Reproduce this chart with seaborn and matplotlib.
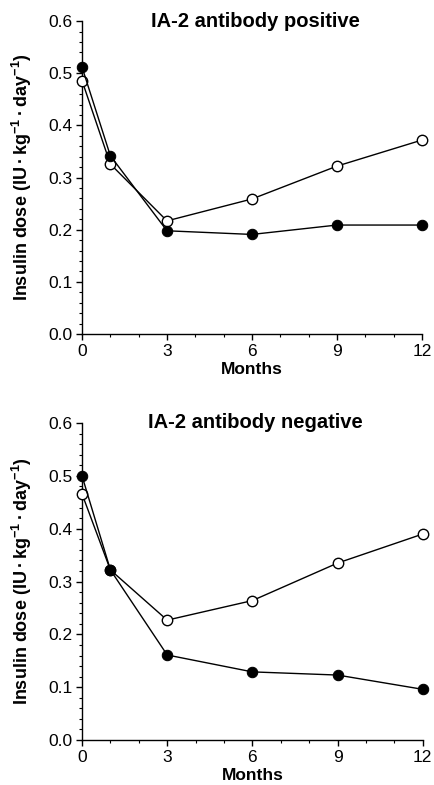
import seaborn as sns
import matplotlib.pyplot as plt
from matplotlib.ticker import MultipleLocator

months = [0, 1, 3, 6, 9, 12]

# IA-2 antibody positive
pos_filled = [0.512, 0.342, 0.198, 0.191, 0.209, 0.209]
pos_open = [0.486, 0.326, 0.217, 0.259, 0.322, 0.372]

# IA-2 antibody negative
neg_filled = [0.500, 0.322, 0.161, 0.129, 0.123, 0.096]
neg_open = [0.466, 0.322, 0.227, 0.264, 0.335, 0.390]

titles = ['IA-2 antibody positive', 'IA-2 antibody negative']
ylabel = 'Insulin dose (IU\u2009$\\bullet$\u2009kg$^{-1}$\u2009$\\bullet$\u2009day$^{-1}$)'

sns.set_style('ticks')
plt.rcParams['font.family'] = ['Liberation Sans', 'DejaVu Sans']
plt.rcParams['mathtext.fontset'] = 'custom'
plt.rcParams['mathtext.rm'] = 'Liberation Sans:bold'
plt.rcParams['mathtext.bf'] = 'Liberation Sans:bold'
plt.rcParams['text.color'] = 'black'
plt.rcParams['axes.labelcolor'] = 'black'
plt.rcParams['xtick.color'] = 'black'
plt.rcParams['ytick.color'] = 'black'
plt.rcParams['axes.edgecolor'] = 'black'

fig = plt.figure(figsize=(4.34, 7.85), dpi=100)
ax1 = fig.add_axes([0.189, 0.5745, 0.783, 0.3985])
ax2 = fig.add_axes([0.189, 0.0573, 0.785, 0.4037])

for ax, filled, opened, title, ty in [(ax1, pos_filled, pos_open, titles[0], 0.981),
                                      (ax2, neg_filled, neg_open, titles[1], 0.986)]:
    sns.lineplot(x=months, y=opened, ax=ax, color='black', lw=1.0,
                 marker='o', markersize=7.5, markerfacecolor='white',
                 markeredgecolor='black', markeredgewidth=1.0, zorder=3)
    sns.lineplot(x=months, y=filled, ax=ax, color='black', lw=1.0,
                 marker='o', markersize=7.5, markerfacecolor='black',
                 markeredgecolor='black', zorder=4)
    ax.set_xlim(0, 12)
    ax.set_ylim(0, 0.6)
    ax.set_xticks([0, 3, 6, 9, 12])
    ax.set_yticks([0.0, 0.1, 0.2, 0.3, 0.4, 0.5, 0.6])
    ax.set_yticklabels(['0.0', '0.1', '0.2', '0.3', '0.4', '0.5', '0.6'])
    ax.xaxis.set_minor_locator(MultipleLocator(1))
    ax.yaxis.set_minor_locator(MultipleLocator(0.02))
    ax.tick_params(which='major', length=4, width=1, labelsize=12.5, pad=3)
    ax.tick_params(which='minor', length=2, width=0.8)
    ax.spines['top'].set_visible(False)
    ax.spines['right'].set_visible(False)
    ax.spines['left'].set_linewidth(1)
    ax.spines['bottom'].set_linewidth(1)
    ax.set_xlabel('Months', fontsize=12.5, fontweight='bold', labelpad=2)
    ax.set_ylabel(ylabel, fontsize=13, fontweight='bold', labelpad=10)
    ax.set_title(title, fontsize=14.5, fontweight='bold', pad=0, x=0.51, y=ty)
    for line in ax.lines:
        line.set_clip_on(False)

fig.savefig('out.png', dpi=100)
